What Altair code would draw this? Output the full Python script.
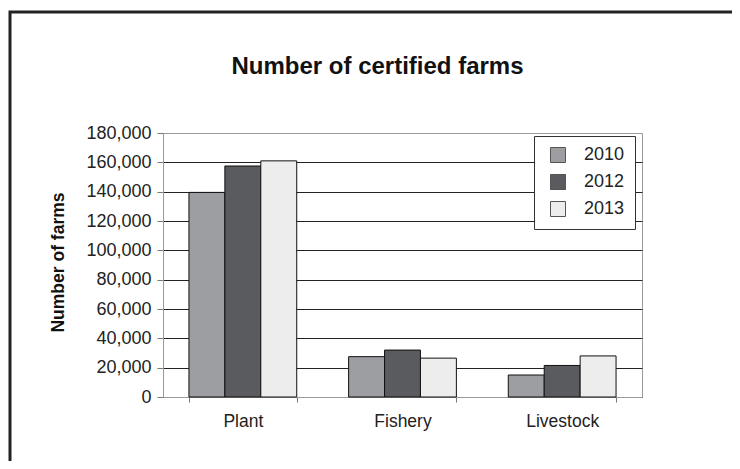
import altair as alt
import pandas as pd

categories = ["Plant", "Fishery", "Livestock"]
years = ["2010", "2012", "2013"]
values_2010 = [139500, 27500, 15000]
values_2012 = [157500, 32000, 21500]
values_2013 = [161000, 26500, 28000]
y_ticks = [0, 20000, 40000, 60000, 80000, 100000, 120000, 140000, 160000, 180000]
colors = ["#9d9ea2", "#5a5b5f", "#ededed"]

rows = []
for yr, vals in zip(years, [values_2010, values_2012, values_2013]):
    for c, v in zip(categories, vals):
        rows.append({"category": c, "year": yr, "farms": v})
df = pd.DataFrame(rows)

FONT = "Liberation Sans"

bars = alt.Chart(df).mark_bar(stroke="#111", strokeWidth=1).encode(
    x=alt.X("category:N", sort=categories,
            scale=alt.Scale(paddingInner=0.325, paddingOuter=0.1625),
            axis=alt.Axis(title=None, labelAngle=0, tickBand="extent",
                          labelFontSize=17.5, labelColor="#222", labelFont=FONT,
                          tickSize=5, labelPadding=10, domainColor="#999",
                          tickColor="#777", grid=False)),
    xOffset=alt.XOffset("year:N", sort=years,
                        scale=alt.Scale(paddingInner=0, paddingOuter=0)),
    y=alt.Y("farms:Q", scale=alt.Scale(domain=[0, 180000], nice=False),
            axis=alt.Axis(title="Number of farms", values=y_ticks, format=",d",
                          labelFontSize=18, labelColor="#222", labelFont=FONT,
                          tickSize=6, labelPadding=6, tickColor="#777",
                          domainColor="#999",
                          gridColor={"condition": {"test": "datum.value == 180000", "value": "#999"}, "value": "#222"},
                          gridWidth=1,
                          titleFont=FONT, titleFontSize=17.5, titleFontWeight="bold",
                          titleColor="#111", titleAngle=270, titleX=-105, titleY=129,
                          titleAlign="center", titleBaseline="middle")),
    color=alt.Color("year:N", sort=years,
                    scale=alt.Scale(domain=years, range=colors),
                    legend=alt.Legend(title=None, orient="none", legendX=371, legendY=3,
                                      fillColor="white", strokeColor="#333",
                                      padding=10, symbolType="square", symbolSize=225,
                                      symbolStrokeColor="#555", symbolStrokeWidth=1,
                                      symbolOffset=5, labelOffset=17,
                                      labelFontSize=18, labelFont=FONT, labelColor="#222",
                                      rowPadding=7,
                                      labelExpr="datum.label + '    '")),
)

border = alt.Chart(pd.DataFrame({"a": [0]})).mark_rect(
    fill=None, stroke="#222", strokeWidth=3, clip=False
).encode(
    x=alt.value(-153), x2=alt.value(700), y=alt.value(-121), y2=alt.value(400)
)

chart = alt.layer(border, bars).properties(
    width=479, height=264,
    title=alt.TitleParams("Number of certified farms", font=FONT, fontSize=24,
                          fontWeight="bold", color="#111", anchor="middle",
                          frame="group", dx=-25, offset=-68),
    autosize=alt.AutoSizeParams(type="none"),
    padding={"left": 155, "top": 125, "right": 90, "bottom": 64},
).configure(background="white").configure_view(stroke="#999")

chart.save("out.html", embed_options={"renderer": "svg", "actions": False})
